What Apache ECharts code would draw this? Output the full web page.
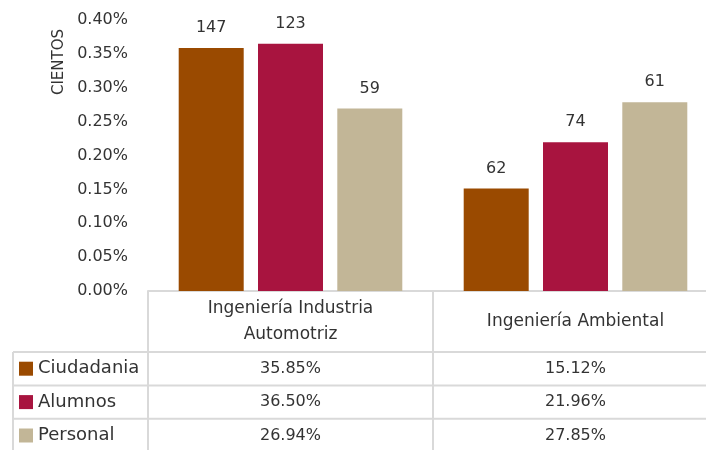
<!DOCTYPE html>
<html>
<head>
<meta charset="utf-8">
<script src="https://cdn.jsdelivr.net/npm/echarts@6/dist/echarts.min.js"></script>
<style>
html,body{margin:0;padding:0;background:#ffffff;}
#chart{width:706px;height:450px;}
</style>
</head>
<body>
<div id="chart"></div>
<script>
// ---- data ----
const categories = ['Ingeniería Industria\nAutomotriz', 'Ingeniería Ambiental'];
const seriesNames = ['Ciudadania', 'Alumnos', 'Personal'];
const ciudadania = [0.3585, 0.1512];
const alumnos = [0.3650, 0.2196];
const personal = [0.2694, 0.2785];
const ciudadaniaCounts = [147, 62];
const alumnosCounts = [123, 74];
const personalCounts = [59, 61];
const yMin = 0, yMax = 0.40, yInterval = 0.05;
const axisUnitLabel = 'CIENTOS';

const colors = ['#9a4a00', '#a8143f', '#c2b697'];
const seriesValues = [ciudadania, alumnos, personal];
const seriesCounts = [ciudadaniaCounts, alumnosCounts, personalCounts];
const FONT = '"DejaVu Sans", sans-serif';
const TXT = '#333333';
const LINE = '#d9d9d9';

const chart = echarts.init(document.getElementById('chart'), null, {renderer: 'canvas'});

const series = seriesNames.map((name, i) => ({
  name: name,
  type: 'bar',
  data: seriesValues[i],
  barWidth: 65,
  barGap: '22%',
  itemStyle: {color: colors[i]},
  label: {
    show: true,
    position: 'top',
    distance: 12,
    fontFamily: FONT,
    fontSize: 16,
    color: TXT,
    formatter: p => String(seriesCounts[i][p.dataIndex])
  }
}));

chart.setOption({
  animation: false,
  backgroundColor: '#ffffff',
  textStyle: {fontFamily: FONT},
  grid: {left: 148, width: 570, top: 20, bottom: 159, containLabel: false, outerBoundsMode: 'none'},
  xAxis: {
    type: 'category',
    data: categories,
    axisLine: {show: true, lineStyle: {color: LINE, width: 2}},
    axisTick: {show: false},
    axisLabel: {
      interval: 0,
      margin: 31,
      verticalAlign: 'middle',
      fontFamily: FONT,
      fontSize: 17,
      lineHeight: 26,
      color: TXT
    },
    splitLine: {show: false}
  },
  yAxis: {
    type: 'value',
    min: yMin,
    max: yMax,
    interval: yInterval,
    axisLine: {show: false},
    axisTick: {show: false},
    splitLine: {show: false},
    axisLabel: {
      margin: 20,
      fontFamily: FONT,
      fontSize: 16,
      color: TXT,
      formatter: v => v.toFixed(2) + '%'
    }
  },
  series: series
});

// ---- data table below the axis, positioned from the axis scales ----
const c0 = chart.convertToPixel({xAxisIndex: 0}, categories[0]);
const c1 = chart.convertToPixel({xAxisIndex: 0}, categories[1]);
const bandW = c1 - c0;
const xs = [c0 - bandW / 2, c0 + bandW / 2, c1 + bandW / 2];
const yBase = chart.convertToPixel({yAxisIndex: 0}, 0);
const headerH = 61;
const rowH = 33.4;
const tableLeft = 13;
const headerBottom = yBase + headerH;

const g = [];
const lineStyle = {stroke: LINE, lineWidth: 2};
// vertical lines
xs.forEach(x => g.push({type: 'line', shape: {x1: x, y1: yBase, x2: x, y2: 460}, style: lineStyle, silent: true}));
g.push({type: 'line', shape: {x1: tableLeft, y1: headerBottom, x2: tableLeft, y2: 460}, style: lineStyle, silent: true});
// horizontal lines
for (let r = 0; r < seriesNames.length; r++) {
  const y = headerBottom + r * rowH;
  g.push({type: 'line', shape: {x1: tableLeft, y1: y, x2: 720, y2: y}, style: lineStyle, silent: true});
}
// row labels and values
seriesNames.forEach((name, r) => {
  const cy = headerBottom + r * rowH + rowH / 2;
  g.push({type: 'rect', shape: {x: 19, y: cy - 7, width: 14, height: 14}, style: {fill: colors[r]}, silent: true});
  g.push({type: 'text', x: 38, y: cy, style: {text: name, fontFamily: FONT, fontSize: 18, fill: TXT, verticalAlign: 'middle', align: 'left'}, silent: true});
  seriesValues[r].forEach((v, ci) => {
    const cx = chart.convertToPixel({xAxisIndex: 0}, categories[ci]);
    g.push({type: 'text', x: cx, y: cy, style: {text: (v * 100).toFixed(2) + '%', fontFamily: FONT, fontSize: 16, fill: TXT, verticalAlign: 'middle', align: 'center'}, silent: true});
  });
});
// axis unit label
g.push({type: 'text', x: 59, y: 62, rotation: Math.PI / 2, style: {text: axisUnitLabel, fontFamily: FONT, fontSize: 15, fill: TXT, align: 'center', verticalAlign: 'middle'}, silent: true});

chart.setOption({graphic: g});
</script>
</body>
</html>
